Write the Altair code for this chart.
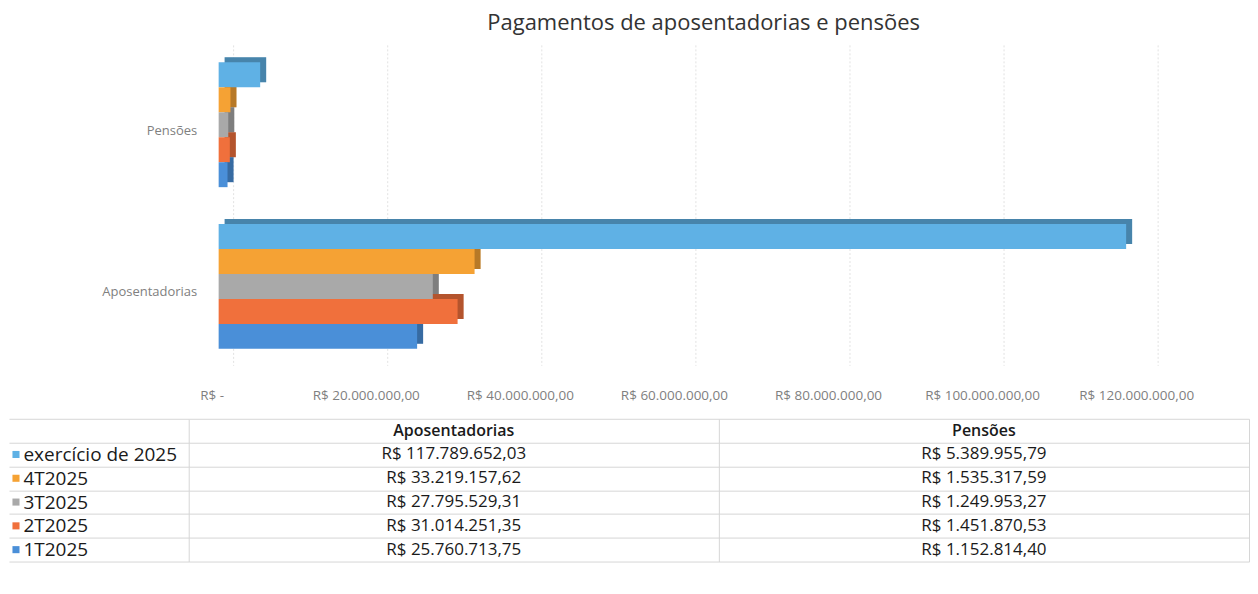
import altair as alt
import pandas as pd

title_text = "Pagamentos de aposentadorias e pensões"
categories = ["Pensões", "Aposentadorias"]
series = ["exercício de 2025", "4T2025", "3T2025", "2T2025", "1T2025"]
aposentadorias = [117789652.03, 33219157.62, 27795529.31, 31014251.35, 25760713.75]
pensoes = [5389955.79, 1535317.59, 1249953.27, 1451870.53, 1152814.40]
colors = ["#5fb1e5", "#f5a234", "#a9a9a9", "#f0703c", "#4a8fd8"]
tick_values = [0, 20000000, 40000000, 60000000, 80000000, 100000000, 120000000]
tick_labels = ["R$ -", "R$ 20.000.000,00", "R$ 40.000.000,00", "R$ 60.000.000,00",
               "R$ 80.000.000,00", "R$ 100.000.000,00", "R$ 120.000.000,00"]
table_columns = ["Aposentadorias", "Pensões"]

FONT = "Open Sans"
# the value axis starts a little left of zero so that the bars sit right of the label column
X_DOMAIN = [-3886000, 120000000]


def brl(v):
    s = f"{v:,.2f}".replace(",", "#").replace(".", ",").replace("#", ".")
    return "R$ " + s


rows = []
for s, a, p in zip(series, aposentadorias, pensoes):
    rows.append({"categoria": "Aposentadorias", "serie": s, "valor": a, "texto": brl(a)})
    rows.append({"categoria": "Pensões", "serie": s, "valor": p, "texto": brl(p)})
df = pd.DataFrame(rows)

color_scale = alt.Scale(domain=series, range=colors)
label_map = "({" + ",".join(f"'{v}':'{l}'" for v, l in zip(tick_values, tick_labels)) + "})[datum.value]"

y_enc = alt.Y(
    "categoria:N",
    sort=categories,
    scale=alt.Scale(domain=categories, paddingInner=0.228, paddingOuter=0.105),
    axis=alt.Axis(title=None, domain=False, ticks=False, labelPadding=-8, labelOffset=6,
                  labelFontSize=13, labelColor="#808080", labelFont=FONT,
                  minExtent=180, maxExtent=180),
)
x_enc = alt.X(
    "valor:Q",
    scale=alt.Scale(domain=X_DOMAIN, nice=False, zero=False),
    axis=alt.Axis(title=None, values=tick_values, labelExpr=label_map, grid=False,
                  domain=False, ticks=False, labelPadding=23, labelOffset=-7,
                  labelOverlap=False, labelFlush=False,
                  labelFontSize=13.5, labelColor="#7f7f7f", labelFont=FONT),
)

grid = alt.Chart(pd.DataFrame({"t": tick_values})).mark_rule(
    xOffset=15, color="#e2e2e2", strokeDash=[2, 2]
).encode(x=alt.X("t:Q", scale=alt.Scale(domain=X_DOMAIN, nice=False, zero=False)))

back = alt.Chart(df).mark_bar(xOffset=6, x2Offset=6).encode(
    x=x_enc, y=y_enc,
    yOffset=alt.YOffset("serie:N", sort=series,
                        scale=alt.Scale(domain=series, range=[-5, 120], paddingInner=0, paddingOuter=0)),
    color=alt.Color("serie:N", scale=color_scale, legend=None),
)
shade = alt.Chart(df).mark_bar(xOffset=6, x2Offset=6, color="#000000", opacity=0.25).encode(
    x=x_enc, y=y_enc,
    yOffset=alt.YOffset("serie:N", sort=series,
                        scale=alt.Scale(domain=series, range=[-5, 120], paddingInner=0, paddingOuter=0)),
)
front = alt.Chart(df).mark_bar().encode(
    x=x_enc, y=y_enc,
    yOffset=alt.YOffset("serie:N", sort=series,
                        scale=alt.Scale(domain=series, range=[0, 125], paddingInner=0, paddingOuter=0)),
    color=alt.Color("serie:N", scale=color_scale, legend=None),
)

bars = alt.layer(grid, back, shade, front).resolve_scale(yOffset="independent").properties(
    width=956, height=321
)

# ---- data table ----
table_rows = ["hdr"] + series
line_color = "#d6d6d6"
ty = alt.Y(
    "serie:N",
    sort=table_rows,
    scale=alt.Scale(domain=table_rows, paddingInner=0, paddingOuter=0),
    axis=alt.Axis(title=None, tickBand="extent", tickSize=180, tickColor=line_color,
                  grid=True, gridColor=line_color, domain=False, labelAlign="left",
                  labelPadding=-14, labelExpr="datum.value == 'hdr' ? '' : datum.value",
                  labelFontSize=19, labelColor="#1a1a1a", labelFont=FONT,
                  minExtent=180, maxExtent=180),
)
tx = alt.X(
    "coluna:N",
    sort=table_columns,
    scale=alt.Scale(domain=table_columns, paddingInner=0, paddingOuter=0),
    axis=alt.Axis(title=None, tickBand="extent", grid=True, gridColor=line_color,
                  labels=False, ticks=False, domain=False),
)

tdf = pd.DataFrame(
    [{"serie": s, "coluna": "Aposentadorias", "texto": brl(a)} for s, a in zip(series, aposentadorias)]
    + [{"serie": s, "coluna": "Pensões", "texto": brl(p)} for s, p in zip(series, pensoes)]
)
hdf = pd.DataFrame({"coluna": table_columns, "serie": ["hdr"] * len(table_columns)})
sdf = pd.DataFrame({"serie": series})

cells = alt.Chart(tdf).mark_text(fontSize=17, font=FONT, color="#1a1a1a").encode(
    x=tx, y=ty, text="texto:N"
)
header = alt.Chart(hdf).mark_text(fontSize=16, font=FONT, color="#1a1a1a", fontWeight=600).encode(
    x=tx, y=ty, text="coluna:N"
)
swatches = alt.Chart(sdf).mark_square(size=50, opacity=1).encode(
    x=alt.value(-173), y=ty,
    color=alt.Color("serie:N", scale=color_scale, legend=None),
)

table = alt.layer(cells, header, swatches).properties(width=1062, height=143)

chart = alt.vconcat(bars, table, spacing=6).properties(
    padding={"top": 4, "left": 0, "right": 0, "bottom": 0},
    title=alt.TitleParams(title_text, fontSize=22, font=FONT, color="#333333",
                          fontWeight="normal", anchor="middle", dx=75, offset=9)
).configure(
    font=FONT, background="white", view=alt.ViewConfig(stroke="transparent")
)

chart.save("out.html", embed_options={"renderer": "svg", "actions": False})
